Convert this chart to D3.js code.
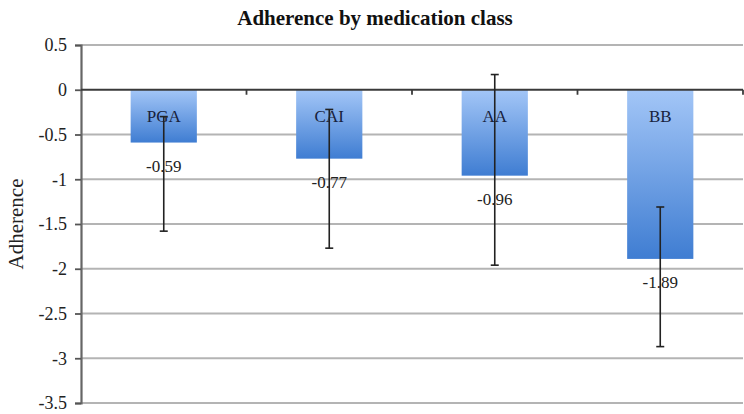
<!DOCTYPE html>
<html>
<head>
<meta charset="utf-8">
<script src="https://cdn.jsdelivr.net/npm/d3@7"></script>
<style>
  html, body { margin: 0; padding: 0; background: #fff; }
  svg { display: block; font-family: "Liberation Serif", "Times New Roman", serif; }
</style>
</head>
<body>
<div id="chart"></div>
<script>
"use strict";
var categories = ["PGA", "CAI", "AA", "BB"];
var values = [-0.59, -0.77, -0.96, -1.89];
var errUpper = [-0.3, -0.22, 0.17, -1.31];
var errLower = [-1.58, -1.77, -1.96, -2.87];
var yTicks = [0.5, 0, -0.5, -1, -1.5, -2, -2.5, -3, -3.5];

var width = 744, height = 414;
var margin = { top: 45, right: 1, bottom: 10, left: 81 };

var svg = d3.select("#chart").append("svg")
    .attr("width", width)
    .attr("height", height);

var defs = svg.append("defs");
var grad = defs.append("linearGradient")
    .attr("id", "barGrad")
    .attr("x1", 0).attr("y1", 0).attr("x2", 0).attr("y2", 1);
grad.append("stop").attr("offset", "0%").attr("stop-color", "#a3c6f7");
grad.append("stop").attr("offset", "100%").attr("stop-color", "#3f7dd2");

var x = d3.scaleBand()
    .domain(categories)
    .range([margin.left, width - margin.right])
    .paddingInner(0.6)
    .paddingOuter(0.3);
var xTicks = d3.scaleBand()
    .domain(categories)
    .range([margin.left, width - margin.right]);
var y = d3.scaleLinear()
    .domain([-3.5, 0.5])
    .range([403, 45]);

// gridlines
svg.append("g")
    .selectAll("line")
    .data(yTicks.filter(function (t) { return t !== 0; }))
    .enter().append("line")
    .attr("x1", margin.left).attr("x2", width - margin.right)
    .attr("y1", function (t) { return y(t); })
    .attr("y2", function (t) { return y(t); })
    .style("stroke", "#b4b4b4")
    .style("stroke-width", 1.8);

// bars
svg.append("g")
    .selectAll("rect")
    .data(categories)
    .enter().append("rect")
    .attr("x", function (c) { return x(c); })
    .attr("y", y(0))
    .attr("width", x.bandwidth())
    .attr("height", function (c, i) { return y(values[i]) - y(0); })
    .style("fill", "url(#barGrad)");

// y axis
var yAxis = svg.append("g")
    .attr("transform", "translate(" + margin.left + ",0)")
    .call(d3.axisLeft(y).tickValues(yTicks).tickSize(6).tickPadding(8)
        .tickFormat(function (d) { return String(d); }));
yAxis.select(".domain").style("stroke", "#666").style("stroke-width", 2.2);
yAxis.selectAll(".tick line").style("stroke", "#555").style("stroke-width", 1.8);
yAxis.selectAll(".tick text")
    .style("font-size", "18px")
    .style("fill", "#222")
    .style("font-family", "Liberation Serif, serif");

// zero axis line with category ticks
var zero = svg.append("g");
zero.append("line")
    .attr("x1", margin.left).attr("x2", width - margin.right)
    .attr("y1", y(0)).attr("y2", y(0))
    .style("stroke", "#3a3a3a").style("stroke-width", 1.8);
zero.selectAll("line.ct")
    .data(categories)
    .enter().append("line")
    .attr("class", "ct")
    .attr("x1", function (c) { return xTicks(c) + xTicks.bandwidth(); })
    .attr("x2", function (c) { return xTicks(c) + xTicks.bandwidth(); })
    .attr("y1", y(0)).attr("y2", y(0) + 5)
    .style("stroke", "#3a3a3a").style("stroke-width", 1.8);

// category labels inside bars
svg.append("g")
    .selectAll("text")
    .data(categories)
    .enter().append("text")
    .attr("x", function (c) { return x(c) + x.bandwidth() / 2; })
    .attr("y", y(0) + 32)
    .attr("text-anchor", "middle")
    .style("font-size", "17px")
    .style("fill", "#18223c")
    .text(function (c) { return c; });

// error bars
var err = svg.append("g").style("stroke", "#222").style("stroke-width", 1.6);
categories.forEach(function (c, i) {
    var cx = x(c) + x.bandwidth() / 2;
    err.append("line")
        .attr("x1", cx).attr("x2", cx)
        .attr("y1", y(errUpper[i])).attr("y2", y(errLower[i]));
    [errUpper[i], errLower[i]].forEach(function (v) {
        err.append("line")
            .attr("x1", cx - 4).attr("x2", cx + 4)
            .attr("y1", y(v)).attr("y2", y(v));
    });
});

// data labels
svg.append("g")
    .selectAll("text")
    .data(categories)
    .enter().append("text")
    .attr("x", function (c) { return x(c) + x.bandwidth() / 2; })
    .attr("y", function (c, i) { return y(values[i]) + 29; })
    .attr("text-anchor", "middle")
    .style("font-size", "17px")
    .style("fill", "#222")
    .text(function (c, i) { return String(values[i]); });

// title
svg.append("text")
    .attr("x", 375).attr("y", 25)
    .attr("text-anchor", "middle")
    .style("font-size", "21px")
    .style("font-weight", "bold")
    .style("fill", "#111")
    .text("Adherence by medication class");

// y axis title
svg.append("text")
    .attr("transform", "translate(23,224) rotate(-90)")
    .attr("text-anchor", "middle")
    .style("font-size", "21px")
    .style("fill", "#222")
    .text("Adherence");
</script>
</body>
</html>
